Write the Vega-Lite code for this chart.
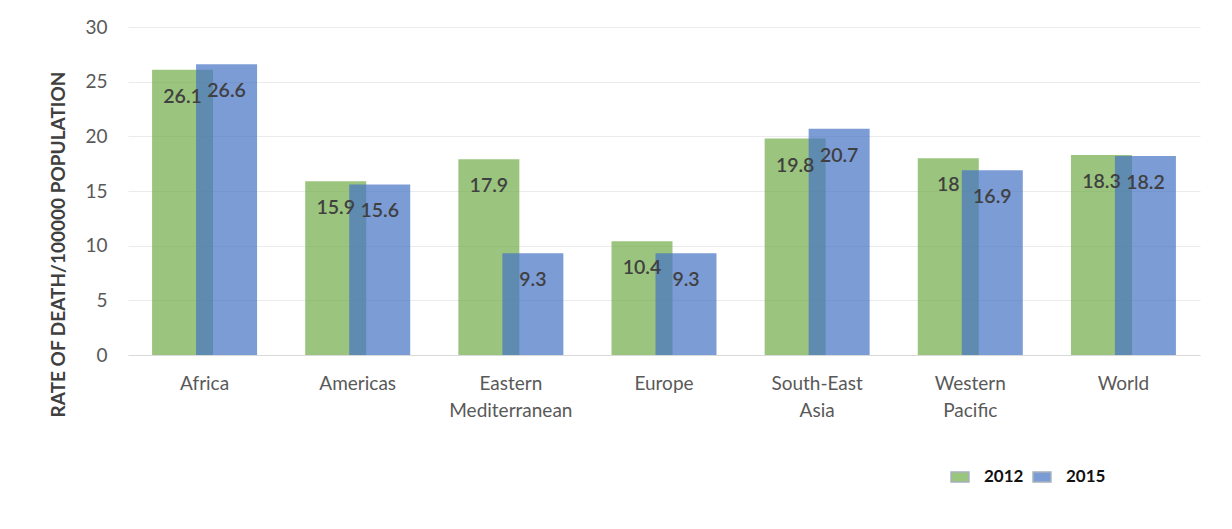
{
  "$schema": "https://vega.github.io/schema/vega-lite/v6.json",
  "autosize": "none",
  "width": 1072,
  "height": 328,
  "padding": {"left": 128, "top": 27, "right": 32, "bottom": 174},
  "background": "white",
  "config": {
    "font": "Lato",
    "view": {"stroke": null}
  },
  "data": {
    "values": [
      {"region": "Africa", "year": "2012", "value": 26.1},
      {"region": "Africa", "year": "2015", "value": 26.6},
      {"region": "Americas", "year": "2012", "value": 15.9},
      {"region": "Americas", "year": "2015", "value": 15.6},
      {"region": "Eastern Mediterranean", "year": "2012", "value": 17.9},
      {"region": "Eastern Mediterranean", "year": "2015", "value": 9.3},
      {"region": "Europe", "year": "2012", "value": 10.4},
      {"region": "Europe", "year": "2015", "value": 9.3},
      {"region": "South-East Asia", "year": "2012", "value": 19.8},
      {"region": "South-East Asia", "year": "2015", "value": 20.7},
      {"region": "Western Pacific", "year": "2012", "value": 18},
      {"region": "Western Pacific", "year": "2015", "value": 16.9},
      {"region": "World", "year": "2012", "value": 18.3},
      {"region": "World", "year": "2015", "value": 18.2}
    ]
  },
  "encoding": {
    "x": {
      "field": "region",
      "type": "nominal",
      "sort": null,
      "scale": {"paddingInner": 0, "paddingOuter": 0},
      "axis": {
        "title": null,
        "labelAngle": 0,
        "labelExpr": "split(datum.label, ' ')",
        "labelFontSize": 19,
        "labelColor": "#595959",
        "labelPadding": 28,
        "labelLineHeight": 27,
        "labelBaseline": "middle",
        "ticks": false,
        "domainColor": "#D9D9D9",
        "grid": false
      }
    },
    "y": {
      "field": "value",
      "type": "quantitative",
      "scale": {"domain": [0, 30]},
      "axis": {
        "title": "RATE OF DEATH/100000  POPULATION",
        "titleFontSize": 19,
        "titleFontWeight": "bold",
        "titleColor": "#404040",
        "titleLimit": 600,
        "titleX": -70,
        "titleY": 217,
        "titleAngle": -90,
        "titleBaseline": "middle",
        "titleAlign": "center",
        "values": [0, 5, 10, 15, 20, 25, 30],
        "labelFontSize": 19,
        "labelColor": "#595959",
        "labelPadding": 21,
        "ticks": false,
        "domain": false,
        "gridColor": "#EBEBEB"
      }
    }
  },
  "layer": [
    {
      "transform": [{"filter": "datum.year == '2012'"}],
      "mark": {"type": "bar", "width": 61, "xOffset": -22, "opacity": 0.7},
      "encoding": {
        "color": {
          "field": "year",
          "type": "nominal",
          "scale": {"domain": ["2012", "2015"], "range": ["#70AD47", "#4472C4"]},
          "legend": {
            "title": null,
            "orient": "none",
            "direction": "horizontal",
            "legendX": 822,
            "legendY": 440,
            "symbolType": "M-1,-0.55H1V0.55H-1Z",
            "symbolSize": 320,
            "symbolStrokeColor": "#7F8FA0",
            "symbolStrokeWidth": 1.5,
            "symbolOpacity": 1,
            "labelFontSize": 17,
            "labelFontWeight": "bold",
            "labelColor": "#111111",
            "labelOffset": 14,
            "columnPadding": 6
          }
        }
      }
    },
    {
      "transform": [{"filter": "datum.year == '2015'"}],
      "mark": {"type": "bar", "width": 61, "xOffset": 22, "opacity": 0.7},
      "encoding": {
        "color": {"field": "year", "type": "nominal"}
      }
    },
    {
      "transform": [{"filter": "datum.year == '2012'"}],
      "mark": {"type": "text", "xOffset": -22, "dy": 27, "fontSize": 19.5, "fontWeight": 600, "color": "#404040", "baseline": "middle"},
      "encoding": {"text": {"field": "value", "type": "quantitative"}}
    },
    {
      "transform": [{"filter": "datum.year == '2015'"}],
      "mark": {"type": "text", "xOffset": 22, "dy": 27, "fontSize": 19.5, "fontWeight": 600, "color": "#404040", "baseline": "middle"},
      "encoding": {"text": {"field": "value", "type": "quantitative"}}
    }
  ]
}
